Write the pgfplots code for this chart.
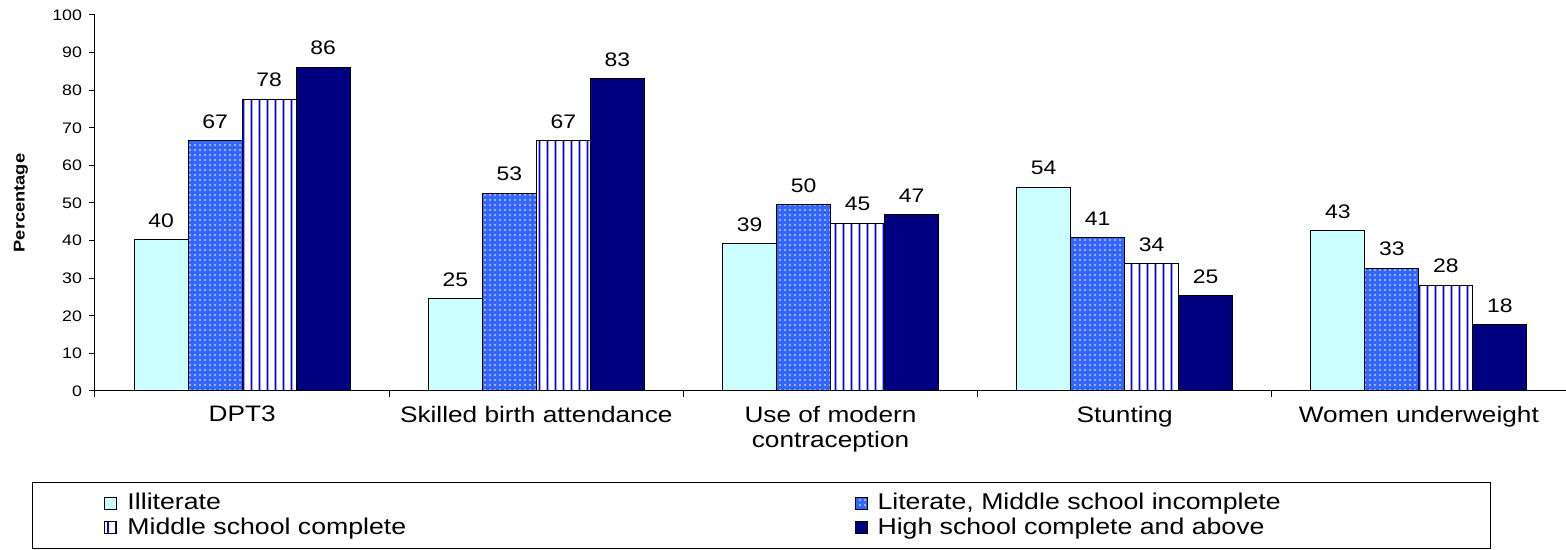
\documentclass[border=0pt]{standalone}
\usepackage{pgfplots}
\usepackage{pgfplotstable}
\pgfplotsset{compat=1.18}
\usepackage{fontspec}
\setmainfont{Liberation Sans}[FakeStretch=1.17]
\usetikzlibrary{patterns.meta}
\definecolor{cIll}{HTML}{CCFFFF}
\definecolor{cLit}{HTML}{3366FF}
\definecolor{cMid}{HTML}{0000FF}
\definecolor{cHigh}{HTML}{000080}

\pgfdeclarepatternformonly{vstripes}{\pgfpointorigin}{\pgfpoint{4pt}{60pt}}{\pgfpoint{4pt}{60pt}}{%
  \pgfpathrectangle{\pgfpoint{1.5pt}{0pt}}{\pgfpoint{1pt}{60pt}}\pgfusepath{fill}}

\pgfplotstableread{
x y l
0 40.3 40
1 24.6 25
2 39.1 39
3 54.2 54
4 42.7 43
}\ill
\pgfplotstableread{
x y l
0 66.5 67
1 52.6 53
2 49.6 50
3 40.7 41
4 32.7 33
}\lit
\pgfplotstableread{
x y l
0 77.6 78
1 66.5 67
2 44.6 45
3 33.9 34
4 28.1 28
}\mid
\pgfplotstableread{
x y l
0 86.1 86
1 83.0 83
2 46.9 47
3 25.4 25
4 17.6 18
}\high

\begin{document}
\begin{tikzpicture}
\path[use as bounding box] (-47.5pt,-79.5pt) rectangle (735.5pt,195.5pt);
\begin{axis}[
  scale only axis,
  width=735.5pt, height=188pt,
  xmin=-0.5, xmax=4.5, ymin=0, ymax=100,
  axis x line*=bottom, axis y line*=left,
  axis line style={black, line width=0.5pt},
  ytick={0,10,...,100},
  xtick={0,...,4},
  xticklabels={DPT3, Skilled birth attendance, {Use of modern\\contraception}, Stunting, Women underweight},
  minor xtick={-0.5,0.5,...,4.5},
  major x tick style={draw=none},
  tick align=outside,
  major tick length=3pt, minor tick length=3pt,
  tick style={black, line width=0.5pt},
  /pgf/number format/assume math mode=true,
  yticklabel style={font=\fontsize{7.6}{9}\selectfont},
  xticklabel style={font=\fontsize{11.2}{12.5}\selectfont, align=center, yshift=-1pt},
  ylabel={\textbf{Percentage}},
  ylabel style={font=\fontsize{7.8}{9}\selectfont, at={(axis description cs:-0.0503,0.5)}, anchor=center},
  ybar=0pt, bar width=27pt,
  nodes near coords,
  point meta=explicit symbolic,
  every node near coord/.append style={font=\fontsize{9.8}{11}\selectfont, black, yshift=2.5pt},
  legend columns=2,
  legend cell align=left,
  legend image code/.code={\draw[#1] (0pt,-3pt) rectangle (6pt,3pt);},
  legend style={at={(0,0)}, anchor=north west, xshift=-31.5pt, yshift=-45.5pt,
    draw=black, line width=0.5pt, font=\fontsize{11.4}{12}\selectfont,
    inner xsep=36pt, inner ysep=3.4pt, row sep=-1.5pt,
    /tikz/every odd column/.append style={column sep=3pt}},
]
\addplot[fill=cIll, draw=black, line width=0.5pt] table[x=x,y=y,meta=l]{\ill};
\addplot[fill=cLit, draw=black, line width=0.5pt, postaction={pattern={Dots[distance=2.5pt, radius=0.4pt]}, pattern color=white}] table[x=x,y=y,meta=l]{\lit};
\addplot[fill=white, draw=black, line width=0.5pt, postaction={pattern=vstripes, pattern color=cMid}] table[x=x,y=y,meta=l]{\mid};
\addplot[fill=cHigh, draw=black, line width=0.5pt] table[x=x,y=y,meta=l]{\high};
\addlegendentry{\makebox[361.5pt][l]{Illiterate}}
\addlegendentry{\makebox[268.5pt][l]{Literate, Middle school incomplete}}
\addlegendentry{\makebox[361.5pt][l]{Middle school complete}}
\addlegendentry{\makebox[268.5pt][l]{High school complete and above}}
\end{axis}
\end{tikzpicture}
\end{document}
